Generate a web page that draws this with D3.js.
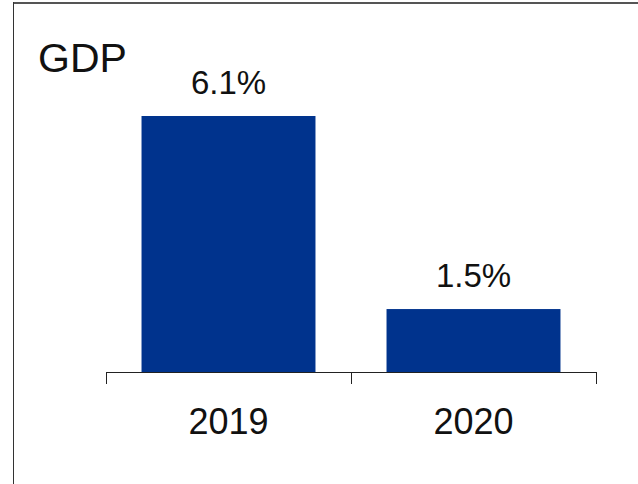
<!DOCTYPE html>
<html>
<head>
<meta charset="utf-8">
<script src="https://cdn.jsdelivr.net/npm/d3@7"></script>
<style>
  html, body { margin: 0; padding: 0; background: #fff; }
  svg { display: block; font-family: "Liberation Sans", Arial, Helvetica, sans-serif; }
</style>
</head>
<body>
<svg id="chart" width="638" height="484"></svg>
<script>
const years = ["2019", "2020"];
const gdpGrowth = [6.1, 1.5];
const valueLabels = ["6.1%", "1.5%"];
const title = "GDP";

const svg = d3.select("#chart");
const W = 638, H = 484;

// frame: top and left edges
svg.append("line").attr("x1", 13.5).attr("x2", W).attr("y1", 3).attr("y2", 3)
  .attr("stroke", "#555").attr("stroke-width", 2);
svg.append("line").attr("x1", 13.5).attr("x2", 13.5).attr("y1", 2).attr("y2", H)
  .attr("stroke", "#333").attr("stroke-width", 1);

const left = 106, right = 596, base = 372, topY = 116;

const x = d3.scaleBand().domain(years).range([left, right])
  .paddingInner(0.29).paddingOuter(0.145);
const y = d3.scaleLinear().domain([0, d3.max(gdpGrowth)]).range([base, topY]);

const data = years.map((yr, i) => ({ year: yr, value: gdpGrowth[i], label: valueLabels[i] }));

// bars
svg.append("g").selectAll("rect").data(data).join("rect")
  .attr("x", d => x(d.year))
  .attr("y", d => y(d.value))
  .attr("width", x.bandwidth())
  .attr("height", d => y(0) - y(d.value))
  .attr("fill", "#00338D");

// value labels
svg.append("g").selectAll("text").data(data).join("text")
  .attr("x", d => x(d.year) + x.bandwidth() / 2)
  .attr("y", d => y(d.value) - 22)
  .attr("text-anchor", "middle")
  .attr("font-size", 33)
  .attr("fill", "#111")
  .text(d => d.label);

// category axis with ticks at band boundaries
const step = x.step();
const edges = [left].concat(years.map((yr, i) => left + step * (i + 1)));
svg.append("line").attr("x1", left).attr("x2", right).attr("y1", base + 0.5).attr("y2", base + 0.5)
  .attr("stroke", "#222").attr("stroke-width", 1);
svg.append("g").selectAll("line").data(edges).join("line")
  .attr("x1", d => Math.round(d) + 0.5).attr("x2", d => Math.round(d) + 0.5)
  .attr("y1", base).attr("y2", base + 12)
  .attr("stroke", "#222").attr("stroke-width", 1);

svg.append("g").selectAll("text").data(years).join("text")
  .attr("x", d => x(d) + x.bandwidth() / 2)
  .attr("y", 434)
  .attr("text-anchor", "middle")
  .attr("font-size", 36)
  .attr("fill", "#111")
  .text(d => d);

// title
svg.append("text").attr("x", 38).attr("y", 72)
  .attr("font-size", 41).attr("fill", "#111").text(title);
</script>
</body>
</html>
